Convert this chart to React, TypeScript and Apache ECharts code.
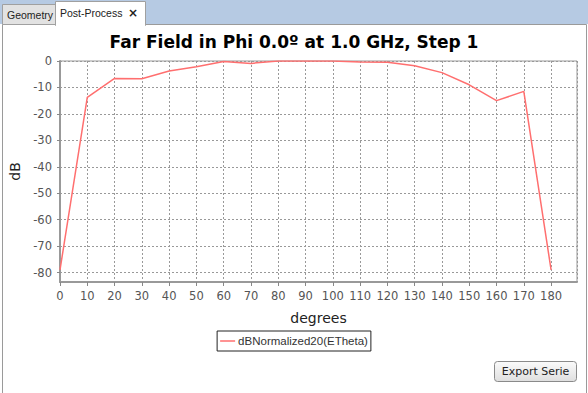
import React, { useEffect, useRef } from "react";
import * as echarts from "echarts";

const degrees = [0, 10, 20, 30, 40, 50, 60, 70, 80, 90, 100, 110, 120, 130, 140, 150, 160, 170, 180];
const dbValues = [-79, -13.8, -6.6, -6.7, -3.8, -2.2, -0.2, -0.9, 0, 0, 0, -0.4, -0.5, -1.8, -4.4, -9.0, -15.0, -11.5, -79];
const seriesName = "dBNormalized20(ETheta)";
const titleText = "Far Field in Phi 0.0º at 1.0 GHz, Step 1";
const tabLabels = ["Geometry", "Post-Process"];
const buttonLabel = "Export Serie";

const FONT = "DejaVu Sans";
const TAB_FONT = "Liberation Sans";

export default function App() {
  const ref = useRef<HTMLDivElement>(null);
  useEffect(() => {
    if (!ref.current) return;
    const chart = echarts.init(ref.current, null, { renderer: "svg" });
    const data = degrees.map((d, i) => [d, dbValues[i]]);
    const gridLine = { show: true, lineStyle: { color: "#999", type: [2, 2], width: 1 } };
    chart.setOption({
      animation: false,
      backgroundColor: "#ffffff",
      title: {
        text: titleText,
        left: "center",
        top: 28,
        textStyle: { fontFamily: FONT, fontWeight: "bold", fontSize: 17, color: "#000" },
      },
      grid: [
        // data grid: y range -80..0
        { left: 60, top: 61, right: 11, bottom: 120.5, show: false },
        // frame grid: full plot area
        { left: 60, top: 61, right: 11, bottom: 111, show: true, borderColor: "#999", borderWidth: 1, backgroundColor: "transparent" },
      ],
      legend: {
        left: "center",
        top: 331,
        data: [seriesName],
        icon: "rect",
        itemWidth: 15,
        itemHeight: 1.5,
        itemGap: 4,
        padding: [4, 3, 4, 3],
        borderColor: "#222",
        borderWidth: 1,
        textStyle: { fontFamily: TAB_FONT, fontSize: 11.5, color: "#333", padding: [0, 0, 0, -2] },
      },
      xAxis: [
        {
          gridIndex: 0,
          type: "value",
          min: 0,
          max: 189.5,
          interval: 10,
          show: false,
        },
        {
          gridIndex: 1,
          type: "value",
          min: 0,
          max: 189.5,
          interval: 10,
          name: "degrees",
          nameLocation: "middle",
          nameGap: 29,
          nameTextStyle: { fontFamily: FONT, fontSize: 14, color: "#222" },
          axisLine: { show: true, onZero: false, lineStyle: { color: "#999", width: 2 } },
          axisTick: { show: true, length: 4, lineStyle: { color: "#888" } },
          axisLabel: {
            fontFamily: FONT,
            fontSize: 11.5,
            color: "#555",
            margin: 8,
            showMaxLabel: false,
            formatter: (v: number) => (v <= 180 && v % 10 === 0 ? String(v) : ""),
          },
          splitLine: gridLine,
        },
      ],
      yAxis: [
        {
          gridIndex: 0,
          type: "value",
          min: -80,
          max: 0,
          interval: 10,
          axisLine: { show: false },
          axisTick: { show: true, length: 3, lineStyle: { color: "#888" } },
          axisLabel: { fontFamily: FONT, fontSize: 11.5, color: "#555", margin: 8 },
          splitLine: gridLine,
        },
        {
          gridIndex: 1,
          type: "value",
          min: 0,
          max: 1,
          name: "dB",
          nameLocation: "middle",
          nameGap: 38,
          nameTextStyle: { fontFamily: FONT, fontSize: 14, color: "#222" },
          axisLine: { show: true, onZero: false, lineStyle: { color: "#999", width: 2 } },
          axisTick: { show: false },
          axisLabel: { show: false },
          splitLine: { show: false },
        },
      ],
      series: [
        {
          name: seriesName,
          type: "line",
          xAxisIndex: 0,
          yAxisIndex: 0,
          data,
          symbol: "none",
          lineStyle: { color: "#ff6f6f", width: 1.5 },
          itemStyle: { color: "#ff6f6f" },
        },
      ],
      graphic: [
        { type: "rect", z: -10, shape: { x: 0, y: 0, width: 588, height: 24 }, style: { fill: "#b6cae3" } },
        { type: "rect", z: -10, shape: { x: 2.5, y: 24.5, width: 584, height: 372 }, style: { fill: "#fff", stroke: "#9a9a9a", lineWidth: 1 } },
        { type: "rect", z: -9, shape: { x: 2.5, y: 4.5, width: 53, height: 20 }, style: { fill: "#e2e2e2", stroke: "#a0a0a0", lineWidth: 1 } },
        { type: "rect", z: -9, shape: { x: 55.5, y: 1.5, width: 90, height: 24 }, style: { fill: "#fff", stroke: "#a0a0a0", lineWidth: 1 } },
        { type: "rect", z: -8, shape: { x: 56, y: 22, width: 89, height: 4 }, style: { fill: "#fff" } },
        { type: "text", z: 5, x: 7, y: 15, style: { text: tabLabels[0], font: `10.5px ${TAB_FONT}`, fill: "#222", verticalAlign: "middle" } },
        { type: "text", z: 5, x: 60, y: 13, style: { text: tabLabels[1], font: `10.5px ${TAB_FONT}`, fill: "#222", verticalAlign: "middle" } },
        { type: "text", z: 5, x: 128, y: 13, style: { text: "×", font: `bold 12px ${FONT}`, fill: "#222", verticalAlign: "middle" } },
        {
          type: "rect",
          z: 5,
          shape: { x: 494.5, y: 361.5, width: 82, height: 20, r: 3 },
          style: {
            fill: new echarts.graphic.LinearGradient(0, 0, 0, 1, [
              { offset: 0, color: "#fbfbfb" },
              { offset: 1, color: "#dedede" },
            ]),
            stroke: "#8a8a8a",
            lineWidth: 1,
          },
        },
        {
          type: "text",
          z: 6,
          x: 535.5,
          y: 371.5,
          style: { text: buttonLabel, font: `11px ${FONT}`, fill: "#222", align: "center", verticalAlign: "middle" },
        },
      ],
    });
    return () => chart.dispose();
  }, []);
  return <div ref={ref} style={{ position: "fixed", left: 0, top: 0, width: 588, height: 393 }} />;
}
